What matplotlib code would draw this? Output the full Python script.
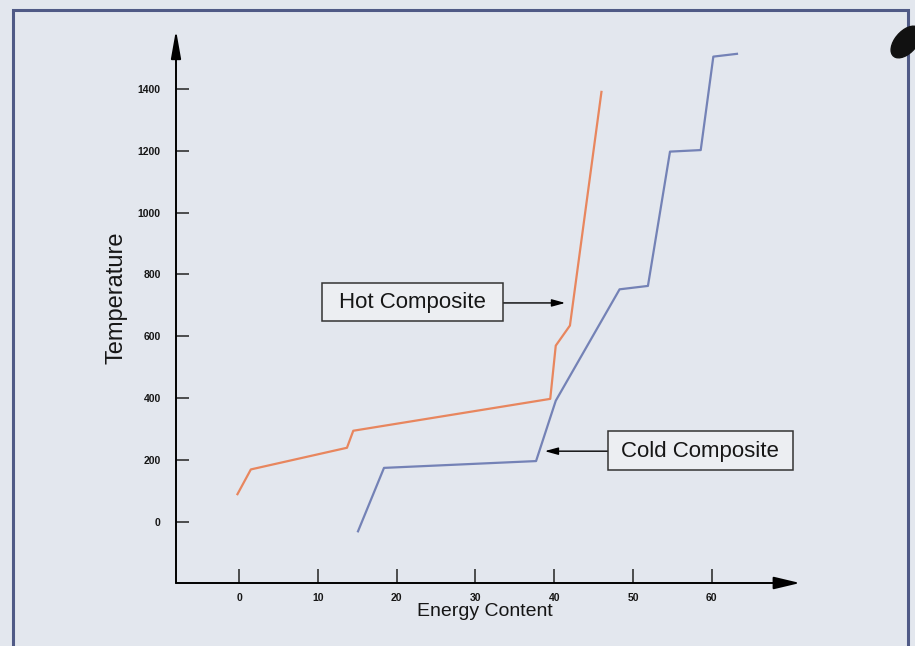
import matplotlib
matplotlib.use('Agg')
import matplotlib.pyplot as plt
from matplotlib.patches import Rectangle, Ellipse

# composite curves
hot_energy = [-0.2, 1.5, 13.7, 14.5, 39.5, 40.2, 42.0, 46.0]
hot_temp = [90, 170, 240, 295, 398, 570, 635, 1390]
cold_energy = [15.1, 18.4, 37.7, 40.2, 48.3, 51.9, 54.7, 58.6, 60.2, 63.2]
cold_temp = [-30, 175, 197, 392, 752, 763, 1197, 1202, 1504, 1513]

x_ticks = [0, 10, 20, 30, 40, 50, 60]
y_ticks = [0, 200, 400, 600, 800, 1000, 1200, 1400]

W, H = 915, 646
bg = '#e3e7ee'
ink = '#161616'
plt.rcParams['font.family'] = ['Liberation Sans', 'DejaVu Sans']


def fx(px):
    return px / W


def fy(py):
    return 1 - py / H


def fig_box(x0, y0, x1, y1, **kw):
    # rectangle given in pixel corners (top-left, bottom-right)
    return Rectangle((fx(x0), fy(y1)), fx(x1) - fx(x0), fy(y0) - fy(y1),
                     transform=fig.transFigure, **kw)


fig = plt.figure(figsize=(W / 100, H / 100), dpi=100, facecolor=bg)

# frame around the slide
fig.patches.append(fig_box(13, 10, 908, 660, fill=False, edgecolor='#505a86', lw=2.2))
fig.patches.append(Ellipse((fx(906), fy(42)), 24 / W, 34 / H, angle=-25,
                           transform=fig.transFigure, color='#111111'))

ax = fig.add_axes([fx(176), fy(583), fx(800) - fx(176), fy(30) - fy(583)])
ax.set_facecolor(bg)
ax.patch.set_alpha(0)
ax.set_xlim(-8.0, 71.2)
ax.set_ylim(-197, 1590)

for s in ax.spines.values():
    s.set_visible(False)

# axes with arrow heads
ax.annotate('', xy=(71.2, -197), xytext=(-8.0, -197),
            arrowprops=dict(arrowstyle='-|>,head_length=1.6,head_width=0.38',
                            color='black', lw=1.4, shrinkA=0, shrinkB=0),
            annotation_clip=False)
ax.annotate('', xy=(-8.0, 1590), xytext=(-8.0, -197),
            arrowprops=dict(arrowstyle='-|>,head_length=1.7,head_width=0.3',
                            color='black', lw=1.4, shrinkA=0, shrinkB=0),
            annotation_clip=False)

ax.plot(hot_energy, hot_temp, color='#e8865e', lw=1.6)
ax.plot(cold_energy, cold_temp, color='#7482b6', lw=1.6)

ax.set_xticks(x_ticks)
ax.set_yticks(y_ticks)
ax.tick_params(axis='x', direction='in', length=10, width=1.1, color='#222222',
               pad=7, labelsize=7.5, labelcolor=ink)
ax.tick_params(axis='y', direction='in', length=9, width=1.1, color='#222222',
               pad=11, labelsize=7.5, labelcolor=ink)
for lab in ax.get_xticklabels() + ax.get_yticklabels():
    lab.set_fontweight('bold')

fig.text(fx(485), fy(612), 'Energy Content', ha='center', va='center',
         fontsize=14, color=ink)
fig.text(fx(117), fy(298), 'Temperature', ha='center', va='center',
         rotation=90, fontsize=17, color=ink)

# label boxes with pointer arrows
fig.patches.append(fig_box(322, 283, 503, 321, facecolor='#eceef2',
                           edgecolor='#333333', lw=1.1))
fig.text(fx(412), fy(302), 'Hot Composite', ha='center', va='center',
         fontsize=16, color=ink)
ax.annotate('', xy=(41.4, 708), xytext=(33.5, 708),
            arrowprops=dict(arrowstyle='-|>,head_length=0.8,head_width=0.22',
                            color='black', lw=1.0, shrinkA=0, shrinkB=0))

fig.patches.append(fig_box(608, 431, 793, 470, facecolor='#eceef2',
                           edgecolor='#333333', lw=1.1))
fig.text(fx(700), fy(451), 'Cold Composite', ha='center', va='center',
         fontsize=16, color=ink)
ax.annotate('', xy=(38.8, 229), xytext=(46.8, 229),
            arrowprops=dict(arrowstyle='-|>,head_length=0.8,head_width=0.22',
                            color='black', lw=1.0, shrinkA=0, shrinkB=0))

fig.savefig('out.png', dpi=100, facecolor=bg)
